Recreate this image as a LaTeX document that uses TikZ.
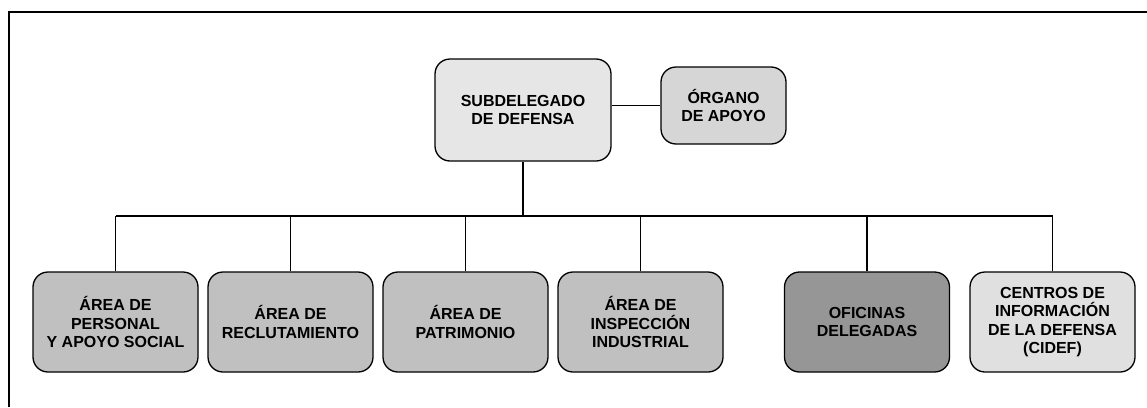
\documentclass[tikz,border=0pt]{standalone}
\usepackage{fontspec}
\setmainfont{Liberation Sans}
\definecolor{fsub}{HTML}{E6E6E6}
\definecolor{forg}{HTML}{D6D6D6}
\definecolor{farea}{HTML}{C0C0C0}
\definecolor{fofi}{HTML}{969696}
\definecolor{fcid}{HTML}{E0E0E0}
\tikzset{
  unit/.style={draw=black, line width=1.3pt, rounded corners=15pt, align=center,
    inner sep=0pt, font=\fontsize{16}{18.5}\selectfont\bfseries},
  areabox/.style={unit, fill=farea, minimum width=165pt, minimum height=100pt},
  link/.style={line width=1.2pt},
  frame/.style={line width=2pt}
}
\begin{document}
\begin{tikzpicture}[x=1pt,y=-1pt]
\useasboundingbox (0,0) rectangle (1147,407);
\draw[frame] (9,407) -- (9,12) -- (1147,12);
\node[unit, fill=fsub, minimum width=176pt, minimum height=102pt] (sub) at (523,110) {SUBDELEGADO\\DE DEFENSA};
\node[unit, fill=forg, minimum width=125pt, minimum height=77pt] (org) at (723.5,105.5) {ÓRGANO\\DE APOYO};
\node[areabox] (b1) at (115.5,322) {ÁREA DE\\PERSONAL\\Y APOYO SOCIAL};
\node[areabox] (b2) at (290.5,322) {ÁREA DE\\RECLUTAMIENTO};
\node[areabox] (b3) at (465.5,322) {ÁREA DE\\PATRIMONIO};
\node[areabox] (b4) at (640.5,322) {ÁREA DE\\INSPECCIÓN\\INDUSTRIAL};
\node[areabox, fill=fofi] (b5) at (867,322) {OFICINAS\\DELEGADAS};
\node[areabox, fill=fcid] (b6) at (1052.5,322) {CENTROS DE\\INFORMACIÓN\\DE LA DEFENSA\\(CIDEF)};
\coordinate (bus) at (523,216);
\draw[link] (sub.east |- org.west) -- (org.west);
\draw[link] (sub.south) -- (sub.south |- bus);
\draw[link] (b1.north |- bus) -- (b6.north |- bus);
\foreach \b in {b1,b2,b3,b4,b5,b6}{
  \draw[link] (\b.north) -- (\b.north |- bus);
}
\end{tikzpicture}
\end{document}
